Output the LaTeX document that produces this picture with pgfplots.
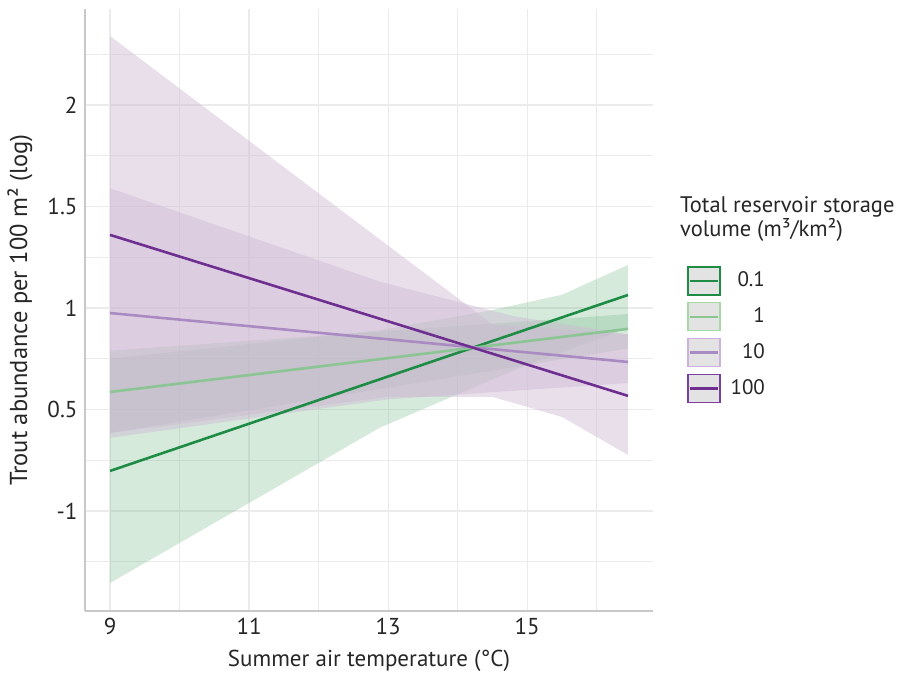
\documentclass[border=0pt]{standalone}
\usepackage{fontspec}
\setmainfont{PT Sans}
\usepackage{pgfplots}
\pgfplotsset{compat=1.18}
\definecolor{gridc}{HTML}{EBEBEB}
\definecolor{axisc}{HTML}{C8C8C8}
\definecolor{cA}{HTML}{1E8C45}
\definecolor{cB}{HTML}{8CC594}
\definecolor{cC}{HTML}{A98BC2}
\definecolor{cD}{HTML}{6E2F91}
\definecolor{bA}{HTML}{1E8C45}
\definecolor{bB}{HTML}{A6D9A8}
\definecolor{bC}{HTML}{CDB0DB}
\definecolor{bD}{HTML}{7B3F9E}
\definecolor{keyfill}{HTML}{E3E3E3}
\definecolor{pfill}{RGB}{206,184,211}
\definecolor{gfill}{RGB}{118,185,138}
\newcommand{\keyimg}[2]{\draw[draw=#1, fill=keyfill, line width=1.3bp] (0bp,-14bp) rectangle (32bp,14bp); \draw[#2, line width=2.4bp] (2bp,0bp) -- (30bp,0bp);}
\begin{document}
\fontsize{22bp}{24bp}\selectfont
\begin{tikzpicture}
\begin{axis}[
  scale only axis, width=568bp, height=602bp,
  xmin=8.64, xmax=16.81, ymin=-0.493, ymax=2.473,
  clip=false,
  axis x line*=bottom, axis y line*=left,
  axis line style={draw=axisc, line width=1.8bp, -},
  xtick={9,11,13,15}, minor xtick={10,12,14,16},
  ytick={0,0.5,1,1.5,2}, yticklabels={-1,0.5,1,1.5,2},
  minor ytick={-0.25,0.25,0.75,1.25,1.75,2.25},
  grid=both,
  major grid style={draw=gridc, line width=1.2bp},
  minor grid style={draw=gridc, line width=1.2bp},
  major tick length=0pt, minor tick length=0pt,
  /pgf/number format/assume math mode=true,
  tick label style={font=\fontsize{23bp}{26bp}\selectfont, text=black!85},
  xlabel style={font=\fontsize{23bp}{26bp}\selectfont, text=black!85},
  ylabel style={font=\fontsize{24.5bp}{27bp}\selectfont, text=black!85},
  xlabel={Summer air temperature (°C)},
  ylabel={Trout abundance per 100 m² (log)},
  legend cell align=right,
  legend style={at={(rel axis cs:1.06,0.573)}, anchor=north west, draw=none, fill=none,
    inner sep=0pt, row sep=6.5bp, column sep=8bp, font=\fontsize{21bp}{24bp}\selectfont,
    nodes={inner sep=2bp, text=black!85}},
]
% green bands first
\addplot[draw=none, fill=gfill, fill opacity=0.3, forget plot] coordinates {
 (9,0.79) (16.45,0.97)
 (16.45,0.80) (9,0.384)} -- cycle;
\addplot[draw=none, fill=gfill, fill opacity=0.3, forget plot] coordinates {
 (9,0.75) (12.88,0.89) (14.5,0.99) (15.5,1.065) (16.45,1.212)
 (16.45,0.90) (15,0.72) (13.9,0.56) (12.88,0.41) (9,-0.355)} -- cycle;
% purple bands
\addplot[draw=none, fill=pfill, fill opacity=0.45, forget plot] coordinates {
 (9,2.34) (12.02,1.56) (14.5,0.92) (16.45,0.87)
 (16.45,0.276) (15.5,0.463) (14.5,0.562) (13,0.562) (9,0.384)} -- cycle;
\addplot[draw=none, fill=pfill, fill opacity=0.45, forget plot] coordinates {
 (9,1.59) (12.88,1.13) (14.8,0.96) (16.45,0.87)
 (16.45,0.63) (13,0.55) (9,0.36)} -- cycle;
% lines
\addplot[cA, line width=2.6bp, legend image code/.code={\keyimg{bA}{cA}}] coordinates {(9,0.197) (16.45,1.064)};
\addlegendentry{0.1}
\addplot[cB, line width=2.6bp, legend image code/.code={\keyimg{bB}{cB}}] coordinates {(9,0.586) (16.45,0.897)};
\addlegendentry{1}
\addplot[cC, line width=2.6bp, legend image code/.code={\keyimg{bC}{cC}}] coordinates {(9,0.975) (16.45,0.734)};
\addlegendentry{10}
\addplot[cD, line width=2.6bp, legend image code/.code={\keyimg{bD}{cD}}] coordinates {(9,1.360) (16.45,0.567)};
\addlegendentry{100}
\node[anchor=north west, align=left, inner sep=0pt, text=black!85, font=\fontsize{22.5bp}{24bp}\selectfont] at (rel axis cs:1.0475,0.689) {Total reservoir storage\\volume (m³/km²)};
\end{axis}
\path (current axis.south west) ++(-85bp,-62bp) rectangle ++(915bp,673bp);
\end{tikzpicture}
\end{document}
